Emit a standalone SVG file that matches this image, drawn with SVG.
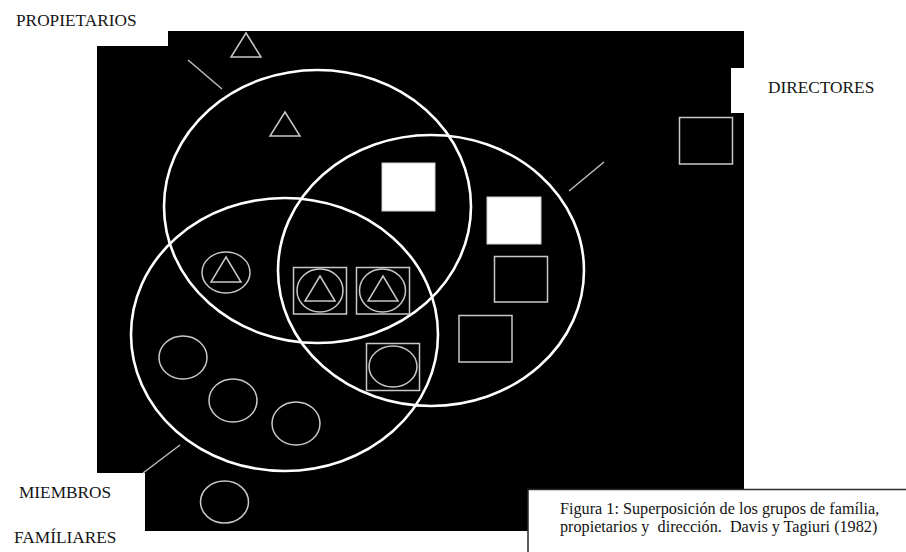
<svg xmlns="http://www.w3.org/2000/svg" width="906" height="552" viewBox="0 0 906 552">
<style>
.set{fill:none;stroke:#fff;stroke-width:2.6}
.sym{fill:none;stroke:#c8c8c8;stroke-width:1.5}
.solid{fill:#fff;stroke:#d0d0d0;stroke-width:1}
.lbl{font-family:"Liberation Serif","Times New Roman",serif;font-size:17.3px;fill:#151515}
.cap{font-family:"Liberation Serif","Times New Roman",serif;font-size:16.2px;fill:#151515;white-space:pre}
.lead{stroke:#bdbdbd;stroke-width:1.5;fill:none}
</style>
<rect width="906" height="552" fill="#fff"/>
<path id="background" d="M168,31 H744 V68 H731 V113 H744 V489 H528 V531 H145 V473 H97 V46 H168 Z" fill="#000"/>
<g id="set-propietarios"><ellipse class="set" cx="317.5" cy="206.5" rx="153.5" ry="136.5"/></g>
<g id="set-directores"><ellipse class="set" cx="431" cy="270.5" rx="153" ry="135.5"/></g>
<g id="set-familia"><ellipse class="set" cx="284.5" cy="334.5" rx="153.5" ry="136.5"/></g>
<g id="connectors">
<line class="lead" x1="188" y1="60" x2="222" y2="89"/>
<line class="lead" x1="569" y1="191" x2="604" y2="162"/>
<line class="lead" x1="180" y1="445" x2="143" y2="473"/>
</g>
<g id="tri-outside"><polygon class="sym" points="246,33 261,57 231,57"/></g>
<g id="tri-owner"><polygon class="sym" points="285,112 300,136 270,136"/></g>
<g id="sq-solid-1"><rect class="solid" x="382" y="163" width="53" height="48"/></g>
<g id="sq-solid-2"><rect class="solid" x="487" y="197" width="54" height="47"/></g>
<g id="sq-outside"><rect class="sym" x="679.5" y="117.5" width="53" height="46.5"/></g>
<g id="sq-dir-1"><rect class="sym" x="494.5" y="256.5" width="53" height="45.5"/></g>
<g id="sq-dir-2"><rect class="sym" x="459" y="315.5" width="53" height="46.5"/></g>
<g id="circ-tri"><ellipse class="sym" cx="226" cy="272.5" rx="24" ry="20.5"/><polygon class="sym" points="226,257 241,282 211,282"/></g>
<g id="sq-circ-tri-1"><rect class="sym" x="293.5" y="267.5" width="53" height="46.5"/><ellipse class="sym" cx="320" cy="290.5" rx="23" ry="21.5"/><polygon class="sym" points="320,276 335,301 305,301"/></g>
<g id="sq-circ-tri-2"><rect class="sym" x="356.5" y="267.5" width="53" height="46.5"/><ellipse class="sym" cx="382.5" cy="290.5" rx="23" ry="21.5"/><polygon class="sym" points="383,276 398,301 368,301"/></g>
<g id="sq-circ"><rect class="sym" x="366.5" y="343.5" width="53" height="47"/><ellipse class="sym" cx="393" cy="366.5" rx="24" ry="20.5"/></g>
<g id="circ-1"><ellipse class="sym" cx="183" cy="357.5" rx="24" ry="21.5"/></g>
<g id="circ-2"><ellipse class="sym" cx="233" cy="400.5" rx="24" ry="21.5"/></g>
<g id="circ-3"><ellipse class="sym" cx="296" cy="423.5" rx="24" ry="21.5"/></g>
<g id="circ-outside"><ellipse class="sym" cx="224.5" cy="502" rx="24" ry="21"/></g>
<g id="label-propietarios"><text class="lbl" x="16" y="26">PROPIETARIOS</text></g>
<g id="label-directores"><text class="lbl" x="768" y="93">DIRECTORES</text></g>
<g id="label-familiares"><text class="lbl" x="19" y="498">MIEMBROS</text><text class="lbl" x="14" y="543">FAMÍLIARES</text></g>
<g id="caption">
<rect x="528" y="489.5" width="390" height="80" fill="#fff" stroke="#2a2a2a" stroke-width="1.5"/>
<text class="cap" x="560" y="514" xml:space="preserve">Figura 1: Superposición de los grupos de família,</text>
<text class="cap" x="560" y="532" xml:space="preserve">propietarios y  dirección.  Davis y Tagiuri (1982)</text>
</g>
</svg>
